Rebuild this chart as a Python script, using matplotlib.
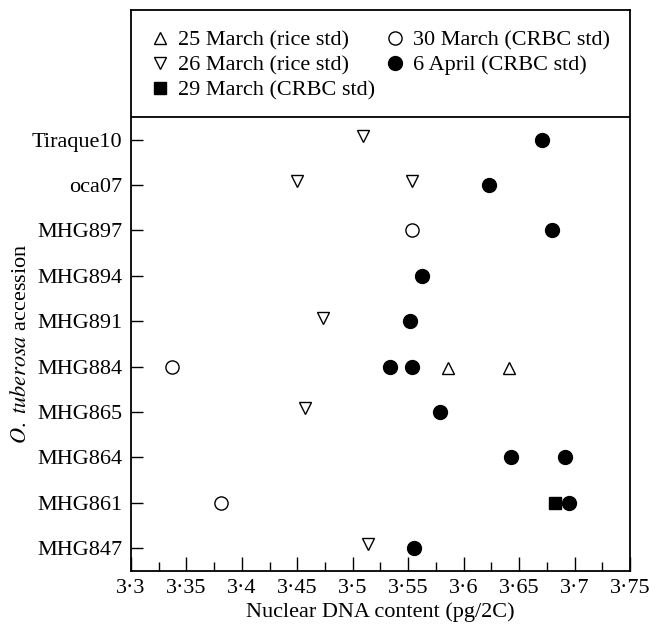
import matplotlib
matplotlib.use("Agg")
import matplotlib.pyplot as plt
from matplotlib.lines import Line2D
from matplotlib.ticker import FixedLocator, FuncFormatter

plt.rcParams["font.family"] = ["Liberation Serif", "DejaVu Serif"]
plt.rcParams["mathtext.fontset"] = "stix"

accessions = ["MHG847", "MHG861", "MHG864", "MHG865", "MHG884",
              "MHG891", "MHG894", "MHG897", "oca07", "Tiraque10"]

# (accession, nuclear DNA content) per run
mar25_rice = [("MHG884", 3.586), ("MHG884", 3.641)]
mar26_rice = [("MHG847", 3.514), ("MHG865", 3.457), ("MHG891", 3.473),
              ("oca07", 3.450), ("oca07", 3.553), ("Tiraque10", 3.509)]
mar29_crbc = [("MHG861", 3.682)]
mar30_crbc = [("MHG861", 3.381), ("MHG884", 3.337), ("MHG897", 3.553)]
apr6_crbc = [("MHG847", 3.555), ("MHG861", 3.695), ("MHG864", 3.643),
             ("MHG864", 3.691), ("MHG865", 3.579), ("MHG884", 3.534),
             ("MHG884", 3.553), ("MHG891", 3.552), ("MHG894", 3.5625),
             ("MHG897", 3.680), ("oca07", 3.623), ("Tiraque10", 3.671)]

x_ticks = [3.3, 3.35, 3.4, 3.45, 3.5, 3.55, 3.6, 3.65, 3.7, 3.75]

series = [
    (mar25_rice, "25 March (rice std)", dict(marker="^", mfc="white", ms=9), -0.04),
    (mar26_rice, "26 March (rice std)", dict(marker="v", mfc="white", ms=9), 0.08),
    (mar29_crbc, "29 March (CRBC std)", dict(marker="s", mfc="black", ms=9), 0.0),
    (mar30_crbc, "30 March (CRBC std)", dict(marker="o", mfc="white", ms=9.5), 0.0),
    (apr6_crbc, "6 April (CRBC std)", dict(marker="o", mfc="black", ms=10), 0.0),
]

fig = plt.figure(figsize=(6.5, 6.32), dpi=100)
ax = fig.add_axes([0.2015, 0.097, 0.7677, 0.8873])

handles = []
for points, label, style, dy in series:
    xs = [v for _, v in points]
    ys = [accessions.index(name) + dy for name, _ in points]
    ax.plot(xs, ys, linestyle="none", mec="black", mew=1.0, zorder=3, **style)
    handles.append(Line2D([], [], linestyle="none", mec="black", mew=1.0,
                          label=label, **style))

ax.set_xlim(3.3, 3.75)
ax.set_ylim(-0.5, 11.86)
ax.axhline(9.5, color="black", lw=1.3)

ax.xaxis.set_major_locator(FixedLocator(x_ticks))
ax.xaxis.set_minor_locator(FixedLocator([t + 0.025 for t in x_ticks[:-1]]))
ax.xaxis.set_major_formatter(FuncFormatter(lambda v, _: f"{v:g}".replace(".", "\u00b7")))
ax.set_yticks(range(len(accessions)))
ax.set_yticklabels(accessions)

ax.tick_params(axis="x", which="major", direction="in", length=10, width=1.0,
               labelsize=16, pad=6)
ax.tick_params(axis="x", which="minor", direction="in", length=6.5, width=1.0)
ax.tick_params(axis="y", direction="in", length=8.5, width=1.0, labelsize=16, pad=6)
for spine in ax.spines.values():
    spine.set_linewidth(1.3)

ax.set_xlabel("Nuclear DNA content (pg/2C)", fontsize=16, labelpad=3)
ax.set_ylabel(r"$\it{O.\ tuberosa}$ accession", fontsize=16)
# centre the y label on the data rows, below the legend strip
ax.yaxis.set_label_coords(-0.2, 5.0 / 12.36)

ax.legend(handles=handles, ncol=2, loc="upper left",
          bbox_to_anchor=(0.0, 1.0), frameon=False, fontsize=16,
          handlelength=0.8, handletextpad=0.4, columnspacing=0.5,
          labelspacing=0.2, borderaxespad=0.4, borderpad=0.5)

fig.savefig("out.png", dpi=100)
